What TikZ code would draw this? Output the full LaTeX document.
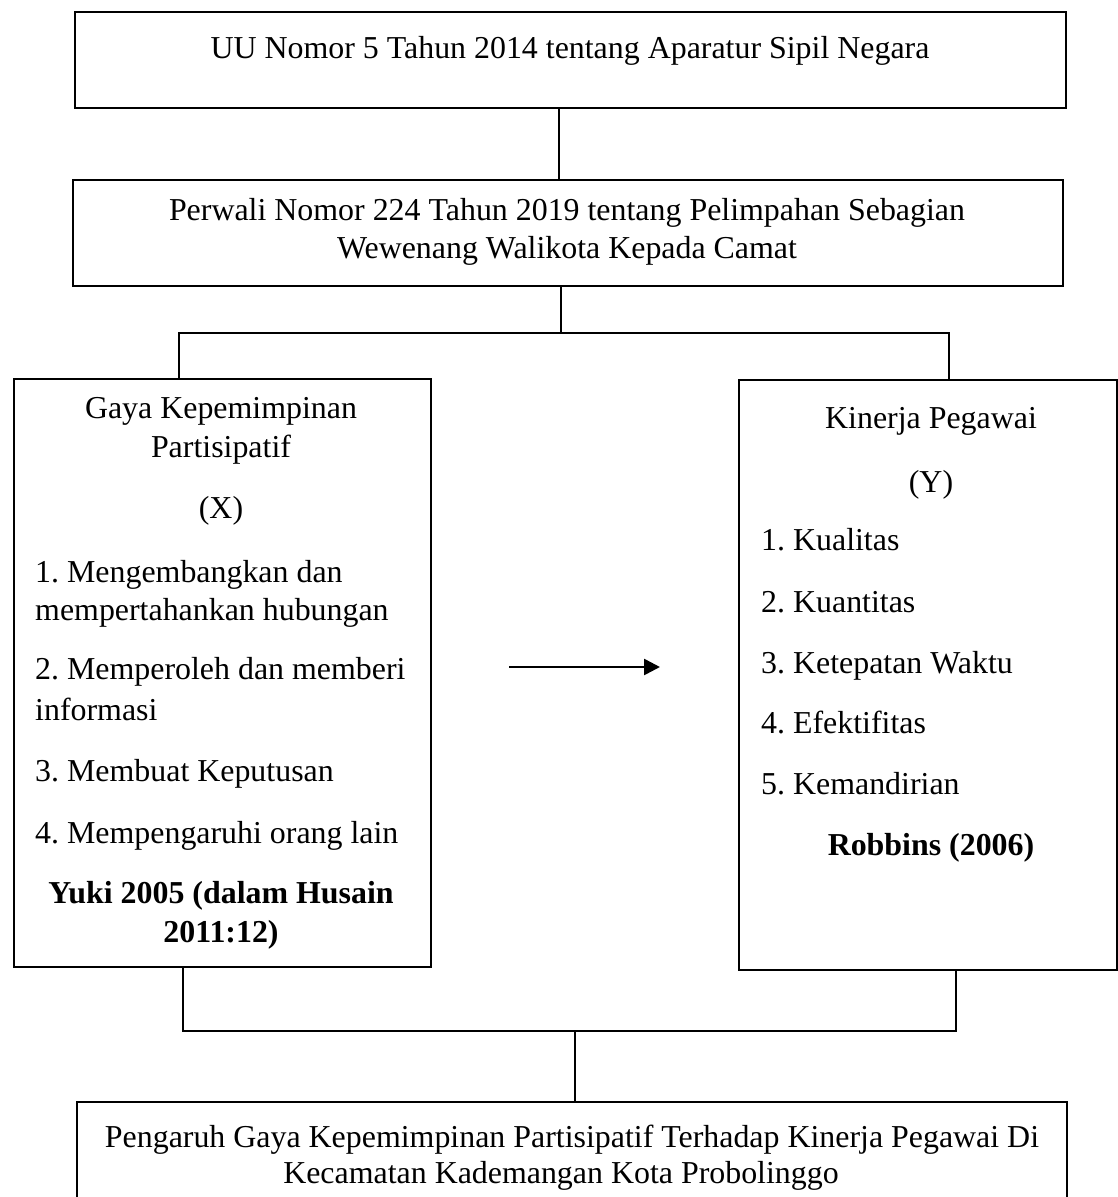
\documentclass[tikz,border=0pt]{standalone}
\usepackage{fontspec}
\setmainfont{Liberation Serif}
\usetikzlibrary{arrows.meta}
\frenchspacing
\begin{document}
\begin{tikzpicture}[x=1pt,y=-1pt,
  box/.style={draw, line width=2.2pt, inner sep=0pt, anchor=north west},
  conn/.style={line width=1.3pt},
  txt/.style={inner sep=0pt, anchor=base, font=\fontsize{31.9}{39}\selectfont\frenchspacing},
  ltxt/.style={txt, anchor=base west},
  btxt/.style={txt, font=\fontsize{31.9}{39}\selectfont\bfseries}]
\useasboundingbox (0,0) rectangle (1118,1197);
\clip (0,0) rectangle (1118,1197);
% boxes
\node[box, minimum width=991pt, minimum height=96pt] (b1) at (74,11) {};
\node[box, minimum width=990pt, minimum height=106pt] (b2) at (72,179) {};
\node[box, minimum width=417pt, minimum height=588pt] (bx) at (13,378) {};
\node[box, minimum width=378pt, minimum height=590pt] (by) at (738,379) {};
\node[box, minimum width=990pt, minimum height=130pt] (b5) at (76,1101) {};
% texts
\node[txt] (t1) at (570,58) {UU Nomor 5 Tahun 2014 tentang Aparatur Sipil Negara};
\node[txt] (t2a) at (567,220) {Perwali Nomor 224 Tahun 2019 tentang Pelimpahan Sebagian};
\node[txt] (t2b) at (567,258) {Wewenang Walikota Kepada Camat};
\node[txt] (x1) at (221,418) {Gaya Kepemimpinan};
\node[txt] (x2) at (221,457) {Partisipatif};
\node[txt] (x3) at (221,518) {(X)};
\node[ltxt] (x4) at (35,582) {1. Mengembangkan dan};
\node[ltxt] (x5) at (35,620) {mempertahankan hubungan};
\node[ltxt] (x6) at (35,679) {2. Memperoleh dan memberi};
\node[ltxt] (x7) at (35,720) {informasi};
\node[ltxt] (x8) at (35,781) {3. Membuat Keputusan};
\node[ltxt] (x9) at (35,843) {4. Mempengaruhi orang lain};
\node[btxt] (x10) at (221,903) {Yuki 2005 (dalam Husain};
\node[btxt] (x11) at (221,942) {2011:12)};
\node[txt] (y1) at (931,428) {Kinerja Pegawai};
\node[txt] (y2) at (931,492) {(Y)};
\node[ltxt] (y3) at (761,550) {1. Kualitas};
\node[ltxt] (y4) at (761,612) {2. Kuantitas};
\node[ltxt] (y5) at (761,673) {3. Ketepatan Waktu};
\node[ltxt] (y6) at (761,733) {4. Efektifitas};
\node[ltxt] (y7) at (761,794) {5. Kemandirian};
\node[btxt] (y8) at (931,855) {Robbins (2006)};
\node[txt] (t5a) at (572,1147) {Pengaruh Gaya Kepemimpinan Partisipatif Terhadap Kinerja Pegawai Di};
\node[txt] (t5b) at (561,1183) {Kecamatan Kademangan Kota Probolinggo};
% junction coordinates
\coordinate (j1) at (559,140);
\coordinate (hT) at (561,333);
\coordinate (hTL) at (179,333);
\coordinate (hTR) at (949,333);
\coordinate (hBL) at (183,1031);
\coordinate (hBR) at (956,1031);
\coordinate (hB) at (575,1031);
\coordinate (a1) at (509,667);
\coordinate (a2) at (660,667);
% connectors
\draw[conn] (b1.south -| j1) -- (b2.north -| j1);
\draw[conn] (b2.south -| hT) -- (hT);
\draw[conn] (bx.north -| hTL) -- (hTL) -- (hTR) -- (by.north -| hTR);
\draw[conn] (bx.south -| hBL) -- (hBL) -- (hBR) -- (by.south -| hBR);
\draw[conn] (hB) -- (b5.north -| hB);
\draw[line width=2.6pt, -{Triangle[length=16pt,width=16pt]}] (a1) -- (a2);
\end{tikzpicture}
\end{document}
